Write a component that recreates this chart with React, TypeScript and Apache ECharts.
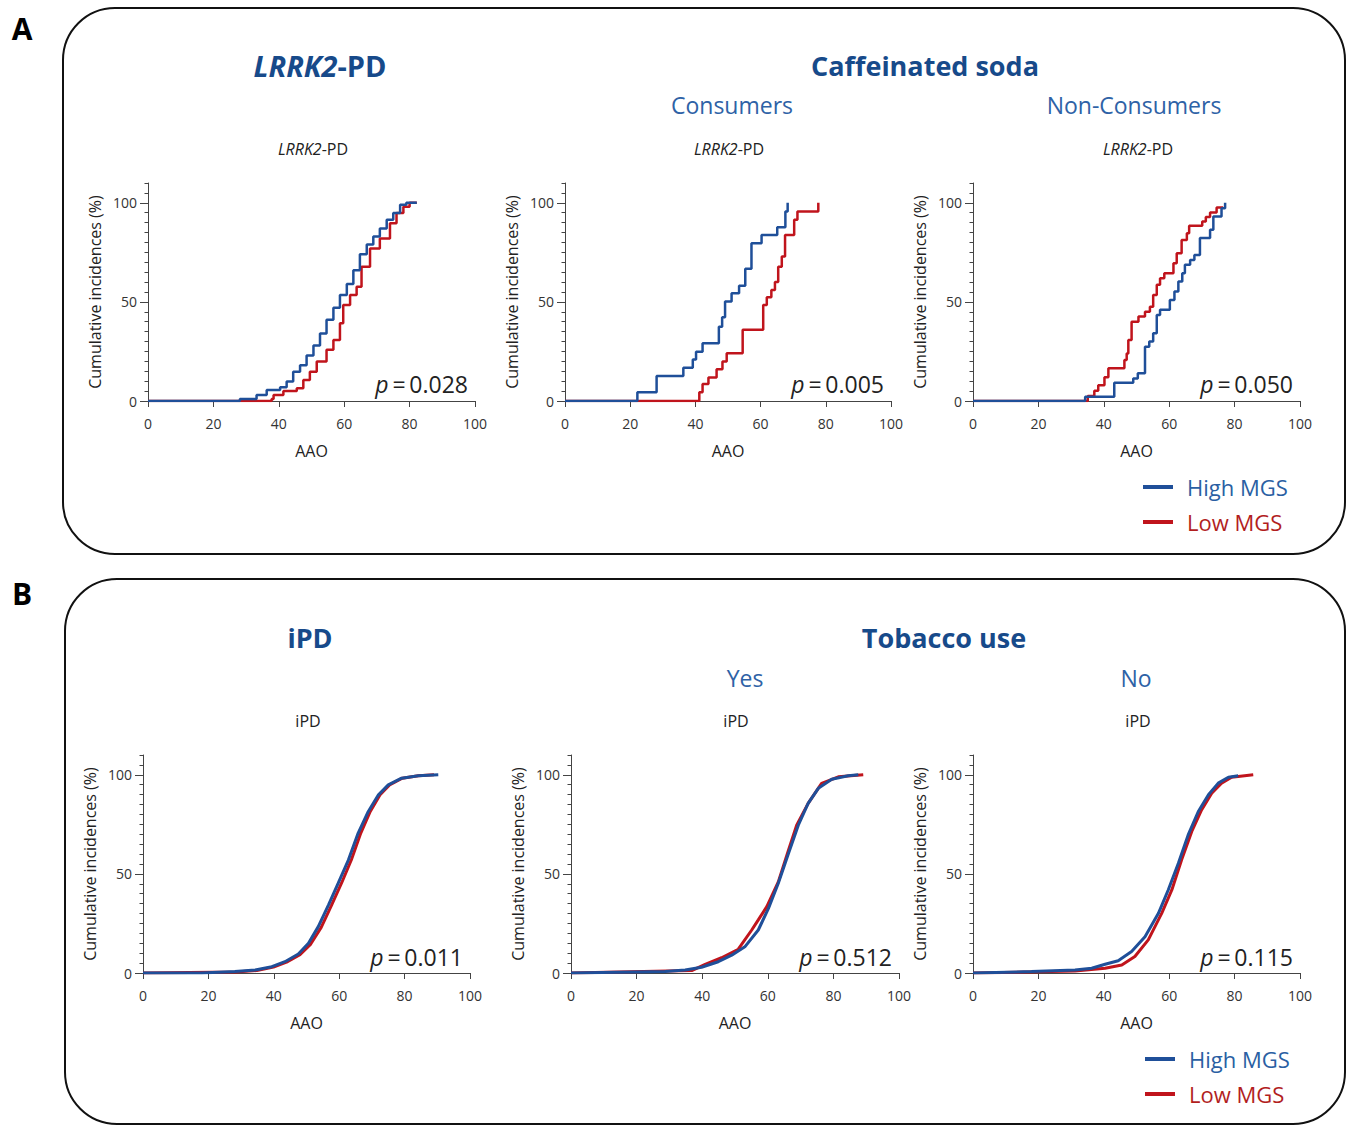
import React, { useEffect, useRef } from "react";
import * as echarts from "echarts";

type Pt = [number, number];

// ---- Panel A: LRRK2-PD (step curves) ----
const lrrkHigh: Pt[] = [[0,0],[28.1,1],[33.2,3],[36.3,5.5],[40.4,7],[42.4,9.8],[44.4,14.8],[46.5,18],[48.5,23],[50.6,28],[52.6,34],[54.6,41],[56.7,47],[58.7,53.5],[60.8,59],[62.8,66],[64.8,74],[66.9,79],[68.9,83],[70.9,87],[73,91.4],[75,94.8],[77.1,99],[79,100],[82.2,100]];
const lrrkLow: Pt[] = [[0,0],[37.8,1],[38.4,3],[41.4,5],[45.5,6.4],[47.5,10.6],[49.5,14.8],[51.6,19.9],[54.6,25.8],[56.7,30.8],[58.7,39.2],[59.7,48.5],[61.8,53.5],[63.8,57.7],[65.3,67.8],[67.9,77],[70.9,82],[74,89.7],[76,94.8],[78.1,98],[80,100],[82.2,100]];
const consHigh: Pt[] = [[0,0],[22.2,4.4],[28.1,12.6],[36.3,16.8],[39.2,21],[40.2,24.9],[42.2,29.1],[47.2,37.5],[48.2,42.3],[49.1,50.2],[51.1,54.4],[53.4,58.2],[55.3,66.7],[57.2,79.6],[60.3,83.8],[65.1,87.7],[67.6,95.6],[68.3,100]];
const consLow: Pt[] = [[0,0],[41.2,4.4],[42.2,8.6],[44,11.8],[46.5,16],[48.3,19.9],[49.6,24.1],[54.5,35.9],[60.8,48.5],[61.9,52.4],[63.3,56],[64.4,60],[65.4,67.8],[66.5,72.9],[67.5,83.8],[70.3,91.4],[71.3,95.6],[77.7,100]];
const nonConsHigh: Pt[] = [[0,0],[34.3,2.2],[43.2,9.2],[49,11.4],[50.4,14],[52.6,27.4],[53.9,30],[55.1,34.2],[56.2,43.4],[57.2,46],[60.2,51],[61.6,55.2],[62.8,60.3],[64,64.5],[64.8,68.7],[66.4,71.2],[67.7,73.7],[69.4,82.2],[72.5,86.4],[73.5,93.1],[76,97.3],[77.1,100]];
const nonConsLow: Pt[] = [[0,0],[35.1,2.5],[37.1,5.2],[38.3,8],[40.2,12],[41.4,16.5],[46.3,20.7],[47,24],[47.5,30.8],[48.5,40],[50.6,42.6],[52.6,45],[54.1,47.6],[55.1,53.5],[56.2,58.6],[57.2,62],[58.5,64.5],[61.3,69.5],[62.3,74.6],[63.8,81.3],[65.4,84.7],[66.1,88.4],[70.1,90.6],[71.2,92.8],[72.5,95.1],[74.5,97.6],[76.5,97.6]];

// ---- Panel B: iPD (dense curves) ----
const ipdHigh: Pt[] = [[0,0],[17.9,0],[28.1,0.7],[34.3,1.5],[39.4,3.2],[43.4,5.7],[47.5,9.6],[50.6,15],[53.6,23.4],[56.7,34.3],[59.7,45.3],[62.8,57],[65.8,70.6],[68.9,81.5],[72,89.9],[75,94.9],[79.1,98.3],[84.2,99.5],[90.3,100]];
const ipdLow: Pt[] = [[0,0],[28.5,0.5],[34.8,1.3],[39.9,3],[43.9,5.5],[48,9.3],[51.3,14.6],[54.5,23],[57.6,34],[60.7,45.3],[63.7,57],[66.6,70.6],[69.5,81.5],[72.5,89.9],[75.4,94.9],[79.3,98.3],[84.2,99.5],[89,100]];
const yesHigh: Pt[] = [[0,0],[28.7,0.7],[34.8,1.5],[39.8,2.9],[44.9,5.7],[49,9],[53,13.2],[57.1,21.7],[60.2,32.6],[63.2,45.3],[66.3,60.3],[69.3,74.6],[72.3,85.6],[75.4,93.2],[79.5,97.8],[84.5,99.5],[87.6,100]];
const yesLow: Pt[] = [[0,0],[36.8,1.2],[40.9,4.4],[45.9,7.7],[51,12],[55.1,21.7],[57.1,26.8],[59.7,33.5],[63.2,46],[66.3,62],[68.8,74.6],[72.3,85.6],[76.4,95.7],[81.5,99],[89.1,100]];
const noHigh: Pt[] = [[0,0],[17.9,0.7],[31.2,1.5],[36.3,2.4],[40.4,4.4],[44.4,6.2],[48.5,10.8],[52.6,18.3],[56.7,30.1],[59.7,41.9],[62.8,55.4],[65.8,69.7],[68.9,81.5],[72,89.9],[75,95.8],[78.1,98.8],[81.1,99.5]];
const noLow: Pt[] = [[0,0],[31.2,1],[40.4,2.4],[45.5,4],[49.5,8.3],[53.6,16.7],[57.7,30.1],[60.8,41.9],[63.8,57.1],[66.9,71.4],[69.9,82.3],[73,90.7],[76,95.8],[79.1,98.8],[85.7,100]];

const pValues = ["0.028", "0.005", "0.050", "0.011", "0.512", "0.115"];
const yLabels = [0, 50, 100];

const BLUE = "#1f4f99";
const RED = "#c0141c";
const FONT = "'Open Sans', 'Noto Sans', sans-serif";

const grids = [
  { left: 148, top: 183, width: 327, height: 218 },
  { left: 565, top: 183, width: 326, height: 218 },
  { left: 973, top: 183, width: 327, height: 218 },
  { left: 143, top: 755, width: 327, height: 218 },
  { left: 571, top: 755, width: 328, height: 218 },
  { left: 973, top: 755, width: 327, height: 218 },
];

const curves: { high: Pt[]; low: Pt[]; step: boolean }[] = [
  { high: lrrkHigh, low: lrrkLow, step: true },
  { high: consHigh, low: consLow, step: true },
  { high: nonConsHigh, low: nonConsLow, step: true },
  { high: ipdHigh, low: ipdLow, step: false },
  { high: yesHigh, low: yesLow, step: false },
  { high: noHigh, low: noLow, step: false },
];

const minorTicks: number[] = [];
for (let v = 5; v <= 110; v += 5) if (v % 50 !== 0) minorTicks.push(v);

export default function App() {
  const ref = useRef<HTMLDivElement>(null);
  useEffect(() => {
    if (!ref.current) return;
    const chart = echarts.init(ref.current, null, { renderer: "svg" });

    const xAxis: any[] = [];
    const yAxis: any[] = [];
    const series: any[] = [];
    grids.forEach((g, i) => {
      xAxis.push({
        type: "value", gridIndex: i, min: 0, max: 100, interval: 20,
        name: "AAO", nameLocation: "middle", nameGap: 42,
        nameTextStyle: { fontSize: 16, color: "#222", fontFamily: FONT },
        axisLine: { show: true, lineStyle: { color: "#444", width: 1 } },
        axisTick: { show: true, length: 6, lineStyle: { color: "#444" } },
        axisLabel: { fontSize: 14, color: "#333", margin: 15, fontFamily: FONT },
        splitLine: { show: false },
      });
      yAxis.push({
        type: "value", gridIndex: i, min: 0, max: 110, interval: 50,
        name: "Cumulative incidences (%)", nameLocation: "middle", nameGap: 45,
        nameTextStyle: { fontSize: 16, color: "#222", fontFamily: FONT },
        axisLine: { show: true, lineStyle: { color: "#444", width: 1 } },
        axisTick: { show: true, length: 8, customValues: yLabels, lineStyle: { color: "#444" } },
        axisLabel: { fontSize: 14, color: "#333", margin: 11, customValues: yLabels, fontFamily: FONT },
        splitLine: { show: false },
      });
      yAxis.push({
        type: "value", gridIndex: i, min: 0, max: 110, position: "left",
        axisLine: { show: false },
        axisTick: { show: true, length: 3.5, customValues: minorTicks, lineStyle: { color: "#444" } },
        axisLabel: { show: false },
        splitLine: { show: false },
      });
      const c = curves[i];
      const lw = c.step ? 2.5 : 3;
      series.push({
        type: "line", xAxisIndex: i, yAxisIndex: 2 * i, data: c.low,
        step: c.step ? "end" : false, showSymbol: false, symbol: "none",
        lineStyle: { color: RED, width: lw }, z: 2,
      });
      series.push({
        type: "line", xAxisIndex: i, yAxisIndex: 2 * i, data: c.high,
        step: c.step ? "end" : false, showSymbol: false, symbol: "none",
        lineStyle: { color: BLUE, width: lw }, z: 3,
      });
    });

    const graphic: any[] = [];
    graphic.push({ type: "rect", shape: { x: 63, y: 8, width: 1282, height: 546, r: 52 }, style: { fill: "none", stroke: "#111", lineWidth: 2 }, z: -10 });
    graphic.push({ type: "rect", shape: { x: 65, y: 579, width: 1280, height: 545, r: 52 }, style: { fill: "none", stroke: "#111", lineWidth: 2 }, z: -10 });
    graphic.push({ type: "text", x: 22, y: 28, style: { text: "A", fontSize: 30, fontWeight: "bold", fill: "#000", fontFamily: FONT, align: "center", verticalAlign: "middle" } });
    graphic.push({ type: "text", x: 22, y: 593, style: { text: "B", fontSize: 30, fontWeight: "bold", fill: "#000", fontFamily: FONT, align: "center", verticalAlign: "middle" } });

    const bigTitle = (x: number, y: number, text: string, rich?: any) => ({
      type: "text", x, y,
      style: { text, fontSize: 27, fontWeight: "bold", fill: "#174a8a", fontFamily: FONT, align: "center", verticalAlign: "middle", rich },
    });
    const richBig = {
      i: { fontSize: 29, fontWeight: "bold", fontStyle: "italic", fill: "#174a8a", fontFamily: FONT },
      n: { fontSize: 29, fontWeight: "bold", fill: "#174a8a", fontFamily: FONT },
    };
    graphic.push(bigTitle(320, 65, "{i|LRRK2}{n|-PD}", richBig));
    graphic.push(bigTitle(925, 65, "Caffeinated soda"));
    graphic.push(bigTitle(310, 637, "iPD"));
    graphic.push(bigTitle(944, 637, "Tobacco use"));

    const sub = (x: number, y: number, text: string) => ({
      type: "text", x, y,
      style: { text, fontSize: 23, fill: "#2e62a6", fontFamily: FONT, align: "center", verticalAlign: "middle" },
    });
    graphic.push(sub(732, 105, "Consumers"));
    graphic.push(sub(1134, 105, "Non-Consumers"));
    graphic.push(sub(745, 678, "Yes"));
    graphic.push(sub(1136, 678, "No"));

    const richSmall = {
      i: { fontSize: 16, fontStyle: "italic", fill: "#222", fontFamily: FONT },
      n: { fontSize: 16, fill: "#222", fontFamily: FONT },
    };
    const smallTitles: [number, number, string][] = [
      [313, 149, "{i|LRRK2}{n|-PD}"], [729, 149, "{i|LRRK2}{n|-PD}"], [1138, 149, "{i|LRRK2}{n|-PD}"],
      [308, 721, "{n|iPD}"], [736, 721, "{n|iPD}"], [1138, 721, "{n|iPD}"],
    ];
    smallTitles.forEach(([x, y, t]) => {
      graphic.push({ type: "text", x, y, style: { text: t, rich: richSmall, align: "center", verticalAlign: "middle", fontFamily: FONT } });
    });

    const richP = {
      i: { fontSize: 23, fontStyle: "italic", fill: "#222", fontFamily: FONT },
      n: { fontSize: 23, fill: "#222", fontFamily: FONT },
    };
    grids.forEach((g, i) => {
      const y = i < 3 ? 384 : 957;
      graphic.push({ type: "text", x: g.left + g.width - 7, y, style: { text: "{i|p}{n|\u2009=\u2009" + pValues[i] + "}", rich: richP, align: "right", verticalAlign: "middle" } });
    });

    const legend = (x: number, y1: number, y2: number) => {
      graphic.push({ type: "line", shape: { x1: x, y1, x2: x + 30, y2: y1 }, style: { stroke: BLUE, lineWidth: 4 } });
      graphic.push({ type: "line", shape: { x1: x, y1: y2, x2: x + 30, y2 }, style: { stroke: RED, lineWidth: 4 } });
      graphic.push({ type: "text", x: x + 44, y: y1, style: { text: "High MGS", fontSize: 22, fill: "#2a5fa3", fontFamily: FONT, verticalAlign: "middle" } });
      graphic.push({ type: "text", x: x + 44, y: y2, style: { text: "Low MGS", fontSize: 22, fill: "#b21e1e", fontFamily: FONT, verticalAlign: "middle" } });
    };
    legend(1143, 487, 522);
    legend(1145, 1059, 1094);

    chart.setOption({
      animation: false,
      backgroundColor: "#fff",
      textStyle: { fontFamily: FONT },
      grid: grids.map((g) => ({ ...g, containLabel: false })),
      xAxis, yAxis, series, graphic,
    });
    return () => chart.dispose();
  }, []);
  return <div ref={ref} style={{ position: "absolute", left: 0, top: 0, width: 1346, height: 1125 }} />;
}
